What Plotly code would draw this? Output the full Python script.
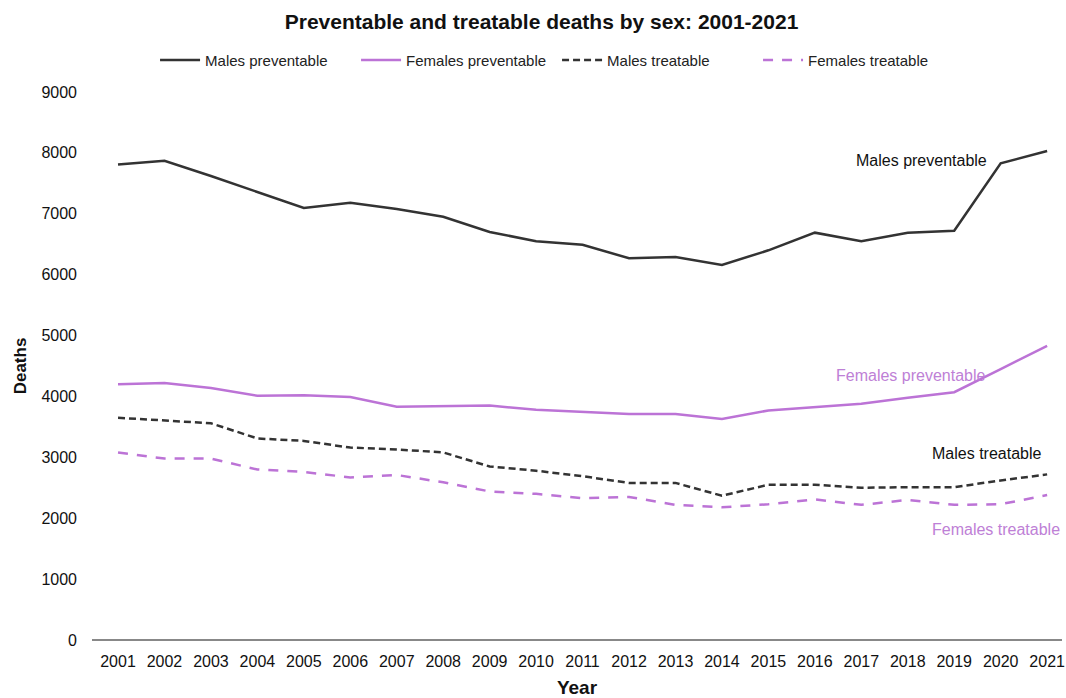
import plotly.graph_objects as go

years = list(range(2001, 2022))
males_preventable = [7810, 7870, 7620, 7360, 7095, 7180, 7080, 6950, 6700, 6550, 6490,
                     6270, 6290, 6160, 6400, 6690, 6550, 6690, 6720, 7830, 8030]
females_preventable = [4200, 4220, 4140, 4010, 4020, 3990, 3830, 3845, 3850, 3780, 3740,
                       3710, 3710, 3630, 3770, 3830, 3880, 3980, 4070, 4450, 4830]
males_treatable = [3650, 3610, 3560, 3310, 3270, 3160, 3130, 3080, 2850, 2780, 2690,
                   2580, 2580, 2370, 2550, 2550, 2500, 2510, 2510, 2620, 2720]
females_treatable = [3080, 2980, 2980, 2800, 2760, 2670, 2710, 2590, 2440, 2400, 2330,
                     2350, 2220, 2180, 2230, 2310, 2220, 2300, 2220, 2230, 2380]
y_ticks = [0, 1000, 2000, 3000, 4000, 5000, 6000, 7000, 8000, 9000]

BLACK = "#333333"
PURPLE = "#BC73D6"
FONT = "Liberation Sans, Arial, sans-serif"

fig = go.Figure()
fig.add_trace(go.Scatter(x=years, y=males_preventable, name="Males preventable", mode="lines",
                         line=dict(color=BLACK, width=2.5)))
fig.add_trace(go.Scatter(x=years, y=females_preventable, name="Females preventable", mode="lines",
                         line=dict(color=PURPLE, width=2.5)))
fig.add_trace(go.Scatter(x=years, y=males_treatable, name="Males treatable", mode="lines",
                         line=dict(color=BLACK, width=2.5, dash="7px,4px")))
fig.add_trace(go.Scatter(x=years, y=females_treatable, name="Females treatable", mode="lines",
                         line=dict(color=PURPLE, width=2.5, dash="10px,9px")))

annots = [
    ("Males preventable", 2019.75, 7870, "#111111"),
    ("Females preventable", 2019.73, 4350, "#BE80D6"),
    ("Males treatable", 2020.91, 3070, "#111111"),
    ("Females treatable", 2021.32, 1820, "#BE80D6"),
]
for text, x, y, c in annots:
    fig.add_annotation(x=x, y=y, xref="x", yref="y", text=text, showarrow=False,
                       xanchor="right", yanchor="middle",
                       font=dict(family=FONT, size=16, color=c))

fig.update_layout(
    width=1066, height=698,
    margin=dict(l=92, r=4, t=92, b=58),
    paper_bgcolor="white", plot_bgcolor="white",
    font=dict(family=FONT, color="#111111"),
    title=dict(text="<b>Preventable and treatable deaths by sex: 2001-2021</b>",
               x=0.508, xanchor="center", y=0.9685, yanchor="middle",
               font=dict(family=FONT, size=21, color="#111111")),
    legend=dict(orientation="h", x=0.065, xanchor="left", y=1.058, yanchor="middle",
                font=dict(family=FONT, size=15, color="#222222"),
                itemwidth=40, tracegroupgap=0, entrywidth=146, entrywidthmode="pixels"),
    showlegend=True,
    xaxis=dict(range=[2000.44, 2021.32], tickmode="array", tickvals=years,
               ticktext=[str(y) for y in years], showgrid=False, zeroline=False,
               showline=False, ticks="", automargin=False,
               tickfont=dict(family=FONT, size=16, color="#111111"), ticklabelstandoff=10,
               title=dict(text="<b>Year</b>", font=dict(family=FONT, size=19, color="#111111"),
                          standoff=12)),
    yaxis=dict(range=[0, 9000], tickmode="array", tickvals=y_ticks,
               ticktext=[str(v) for v in y_ticks], showgrid=False, zeroline=True,
               zerolinecolor="#888888", zerolinewidth=1.5, showline=False, ticks="",
               automargin=False,
               tickfont=dict(family=FONT, size=16, color="#111111"), ticklabelstandoff=14,
               title=dict(text="<b>Deaths</b>", font=dict(family=FONT, size=17, color="#111111"),
                          standoff=10)),
)

fig.write_html("out.html", config={"displayModeBar": False},
               post_script="document.body.style.margin='0';")
